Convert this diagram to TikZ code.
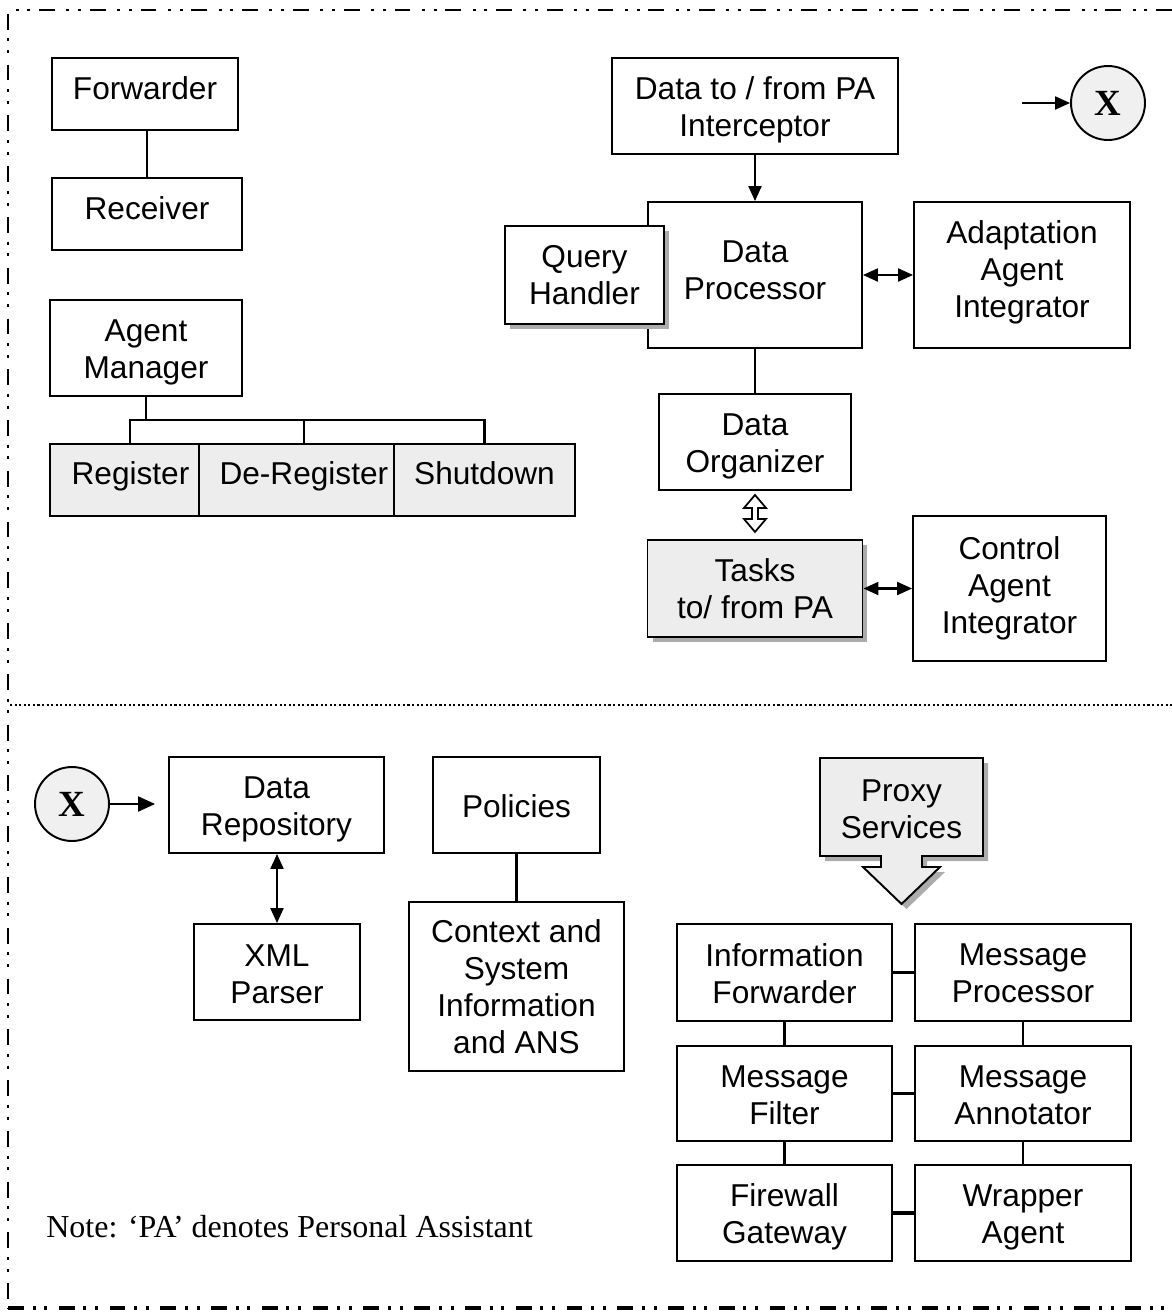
\documentclass[tikz,border=0pt]{standalone}
\usepackage{fontspec}
\setmainfont{Liberation Sans}
\newfontfamily\notefont{Liberation Serif}
\usetikzlibrary{arrows.meta,shadows,calc}

\tikzset{
  box/.style={draw, line width=1.1pt, inner sep=0pt, fill=white},
  greybox/.style={box, fill=gray!14},
  txt/.style 2 args={label={[font=\fontsize{18}{21}\selectfont, align=center,
    inner sep=0pt, yshift=#2]center:{#1}}},
  shadowed/.style={drop shadow={shadow xshift=0.1cm, shadow yshift=-0.1cm,
    fill=gray!65, opacity=1}},
  link/.style={line width=1.2pt},
  tip/.style={line width=1.2pt, -{Triangle[length=0.3cm,width=0.26cm]}},
  dtip/.style={line width=1.2pt,
    {Triangle[length=0.3cm,width=0.26cm]}-{Triangle[length=0.3cm,width=0.26cm]}},
  xcirc/.style={circle, draw, line width=1.1pt, fill=gray!12,
    minimum size=1.48cm, inner sep=0pt,
    font=\notefont\bfseries\fontsize{21}{21}\selectfont},
  frame/.style={line width=1.7pt,
    dash pattern=on 9pt off 5pt on 1.7pt off 5pt on 1.7pt off 6.5pt},
}

\begin{document}
\begin{tikzpicture}[x=0.02cm, y=-0.02cm]
\useasboundingbox (0,0) rectangle (1172,1312);

% outer frame and divider
\draw[frame] (1172,10) -- (8,10) -- (8,1308);
\draw[frame, line width=2.6pt] (8,1308) -- (1172,1308);
\draw[line width=1.2pt, dash pattern=on 1.2pt off 1.4pt] (10,705) -- (1172,705);

% ---------- upper part ----------
\node[box, minimum width=3.72cm, minimum height=1.44cm, txt={Forwarder}{3.4pt}] (fwd) at (145,94) {};
\node[box, minimum width=3.80cm, minimum height=1.44cm, txt={Receiver}{3.4pt}] (rcv) at (147,214) {};
\draw[link] (rcv.north) -- (rcv.north |- fwd.south);

\node[box, minimum width=3.84cm, minimum height=1.92cm, txt={Agent\\Manager}{-2.3pt}] (am) at (146,348) {};
\node[greybox, minimum width=2.98cm, minimum height=1.44cm,
  label={[font=\fontsize{18}{21}\selectfont, inner sep=0pt, xshift=3.4pt, yshift=2.3pt]center:Register}] (reg) at (124.5,480) {};
\node[greybox, minimum width=3.90cm, minimum height=1.44cm,
  label={[font=\fontsize{18}{21}\selectfont, inner sep=0pt, xshift=4.2pt, yshift=2.3pt]center:De-Register}] (dereg) at (296.5,480) {};
\node[greybox, minimum width=3.62cm, minimum height=1.44cm, txt={Shutdown}{4pt}] (shut) at (484.5,480) {};
\coordinate (bus) at (146,420);
\draw[link] (am.south) -- (bus);
\draw[link] ([xshift=0.11cm]reg.north) |- (bus) -| (shut.north);
\draw[link] ([xshift=0.15cm]dereg.north) -- ([xshift=0.15cm]dereg.north |- bus);

\node[box, minimum width=5.72cm, minimum height=1.92cm, txt={Data to / from PA\\Interceptor}{-2.3pt}] (intc) at (755,106) {};
\node[box, minimum width=4.28cm, minimum height=2.92cm, txt={Data\\Processor}{2.8pt}] (dp) at (755,275) {};
\node[box, shadowed, minimum width=3.18cm, minimum height=1.96cm, txt={Query\\Handler}{0pt}] (qh) at (584.5,275) {};
\node[box, minimum width=4.32cm, minimum height=2.92cm, txt={Adaptation\\Agent\\Integrator}{1.7pt}] (aai) at (1022,275) {};
\draw[tip] (intc.south) -- (dp.north);
\draw[dtip] (dp.east) -- (aai.west);

\node[box, minimum width=3.84cm, minimum height=1.92cm, txt={Data\\Organizer}{-2.3pt}] (dorg) at (755,442) {};
\draw[link] (dp.south) -- (dorg.north);

\node[greybox, shadowed, minimum width=4.30cm, minimum height=1.94cm, txt={Tasks\\to/ from PA}{0pt}] (tasks) at (755,588.5) {};
\node[box, minimum width=3.86cm, minimum height=2.90cm, txt={Control\\Agent\\Integrator}{0pt}] (cai) at (1009.5,588.5) {};
\draw[dtip] (tasks.east) -- (tasks.east -| cai.west);

% hollow double arrow between organizer and tasks
\draw[line width=1pt, line join=miter] (dorg.south) ++(0,4)
  -- ++(11,13) -- ++(-8,0) -- ++(0,11) -- ++(8,0) -- ++(-11,13)
  -- ++(-11,-13) -- ++(8,0) -- ++(0,-11) -- ++(-8,0) -- cycle;

\node[xcirc] (xtop) at (1108,103) {X};
\coordinate (xin) at (1022,103);
\draw[tip] (xin) -- (xtop.west);

% ---------- lower part ----------
\node[xcirc] (xbot) at (72,804) {X};
\node[box, minimum width=4.30cm, minimum height=1.92cm, txt={Data\\Repository}{-2.3pt}] (drep) at (276.5,805) {};
\draw[line width=1.2pt, -{Triangle[length=0.34cm,width=0.3cm]}, shorten >=0.26cm]
  (xbot.east) -- (xbot.east -| drep.west);
\node[box, minimum width=3.32cm, minimum height=1.92cm, txt={XML\\Parser}{-1.1pt}] (xml) at (277,972) {};
\draw[dtip] (xml.north |- drep.south) -- (xml.north);

\node[box, minimum width=3.34cm, minimum height=1.92cm, txt={Policies}{-0.5pt}] (pol) at (516.5,805) {};
\node[box, minimum width=4.30cm, minimum height=3.38cm,
  txt={Context and\\System\\Information\\and ANS}{0pt}] (ctx) at (516.5,986.5) {};
\draw[link] (pol.south) -- (ctx.north);

% proxy services callout
\draw[line width=1.1pt, fill=gray!14, shadowed]
  (820,758) -- (983,758) -- (983,856) -- (922,856) -- (922,867) -- (940,867)
  -- (901.5,904) -- (863,867) -- (881,867) -- (881,856) -- (820,856) -- cycle;
\node[font=\fontsize{18}{21}\selectfont, align=center, inner sep=0pt] (proxy) at (901.5,809) {Proxy\\Services};

\node[box, minimum width=4.30cm, minimum height=1.94cm, txt={Information\\Forwarder}{-0.6pt}] (inf) at (784.5,972.5) {};
\node[box, minimum width=4.32cm, minimum height=1.94cm, txt={Message\\Processor}{-0.6pt}] (mproc) at (1023,972.5) {};
\node[box, minimum width=4.30cm, minimum height=1.90cm, txt={Message\\Filter}{-1.1pt}] (mfil) at (784.5,1093.5) {};
\node[box, minimum width=4.32cm, minimum height=1.90cm, txt={Message\\Annotator}{-1.1pt}] (mann) at (1023,1093.5) {};
\node[box, minimum width=4.30cm, minimum height=1.92cm, txt={Firewall\\Gateway}{-2.3pt}] (fw) at (784.5,1213) {};
\node[box, minimum width=4.32cm, minimum height=1.92cm, txt={Wrapper\\Agent}{-2.3pt}] (wrap) at (1023,1213) {};

\draw[link] (inf.east) -- (mproc.west);
\draw[link] (mfil.east) -- (mann.west);
\draw[link, line width=2pt] (fw.east) -- (wrap.west);
\draw[link] (inf.south) -- (mfil.north);
\draw[link] (mfil.south) -- (fw.north);
\draw[link] (mproc.south) -- (mann.north);
\draw[link] (mann.south) -- (wrap.north);

\node[anchor=west, font=\notefont\fontsize{18.2}{21}\selectfont, inner sep=0pt] (note) at (46,1227)
  {Note: ‘PA’ denotes Personal Assistant};
\end{tikzpicture}
\end{document}
